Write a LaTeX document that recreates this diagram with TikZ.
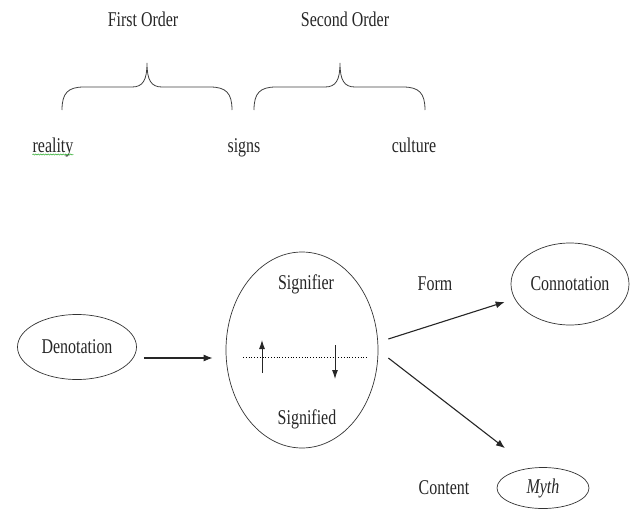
\documentclass[tikz,border=0pt]{standalone}
\usepackage{fontspec}
\setmainfont{Liberation Serif}[FakeStretch=0.76]
\usetikzlibrary{arrows.meta,shapes.geometric,decorations.pathmorphing}

\begin{document}
\begin{tikzpicture}[
  x=1pt, y=-1pt,
  font=\fontsize{21}{23}\selectfont,
  every node/.style={text=black!85},
  oval/.style={draw=black!80, ellipse, line width=0.7pt, inner sep=0pt},
  lbl/.style={inner sep=0pt, anchor=base},
  curly/.style={draw=black!75, line width=0.8pt},
  arr/.style={draw=black!85, line width=1.1pt, -{Latex[length=9pt,width=7pt]}},
  tick/.style={draw=black!85, line width=0.9pt, -{Latex[length=9pt,width=6pt]}}
]
\useasboundingbox (0,0) rectangle (630,509);

% top part: the two orders
\node[lbl] (first) at (143,26) {First Order};
\node[lbl] (second) at (345,26) {Second Order};
\foreach \l/\c/\r in {62/147/232, 254/340/425}
  \draw[curly] (\l,110) .. controls (\l,93) and (\l+6,87) .. (\l+22,87) -- (\c-15,87)
    .. controls (\c-4,87) and (\c,80) .. (\c,63) .. controls (\c,80) and (\c+4,87) .. (\c+15,87)
    -- (\r-22,87) .. controls (\r-6,87) and (\r,93) .. (\r,110);
\node[lbl] (reality) at (53,152) {reality};
\node[lbl] (signs) at (244,152) {signs};
\node[lbl] (culture) at (414,152) {culture};
\draw[green!60!black, line width=0.4pt, decorate, decoration={snake, amplitude=0.6pt, segment length=2.5pt}]
  ([yshift=-2.5pt]reality.base west) -- ([yshift=-2.5pt]reality.base east);

% bottom part
\node[oval, minimum width=119pt, minimum height=65pt] (den) at (77,347) {Denotation};
\node[oval, minimum width=152pt, minimum height=196pt] (sig) at (302,350) {};
\node[lbl] (sfier) at (306,289) {Signifier};
\node[lbl] (sfied) at (307,424) {Signified};
\node[oval, minimum width=118pt, minimum height=82pt] (conn) at (570,284) {Connotation};
\node[oval, minimum width=92pt, minimum height=41pt] (myth) at (543,488) {\itshape Myth};
\node[lbl] (form) at (435,290) {Form};
\node[lbl] (content) at (444,494) {Content};

% bar between signifier and signified
\coordinate (barL) at ([xshift=-59pt,yshift=-7pt]sig.center);
\coordinate (barR) at ([xshift=66pt,yshift=-7pt]sig.center);
\draw[dotted, line width=0.8pt] (barL) -- (barR);
\coordinate (upA) at ([xshift=-40pt,yshift=-23pt]sig.center);
\coordinate (upB) at ([xshift=-40pt,yshift=10pt]sig.center);
\coordinate (dnA) at ([xshift=33pt,yshift=5pt]sig.center);
\coordinate (dnB) at ([xshift=33pt,yshift=-29pt]sig.center);
\draw[tick] (upA) -- (upB);
\draw[tick] (dnA) -- (dnB);

\draw[arr] ([xshift=7pt,yshift=-11pt]den.east) -- ([xshift=-13pt,yshift=-8pt]sig.west);
\draw[arr] ([xshift=10pt,yshift=11pt]sig.east) -- ([xshift=-6pt,yshift=-18pt]conn.west);
\draw[arr] ([xshift=10pt,yshift=-8pt]sig.east) -- ([xshift=-38pt,yshift=19pt]myth.north);
\end{tikzpicture}
\end{document}
